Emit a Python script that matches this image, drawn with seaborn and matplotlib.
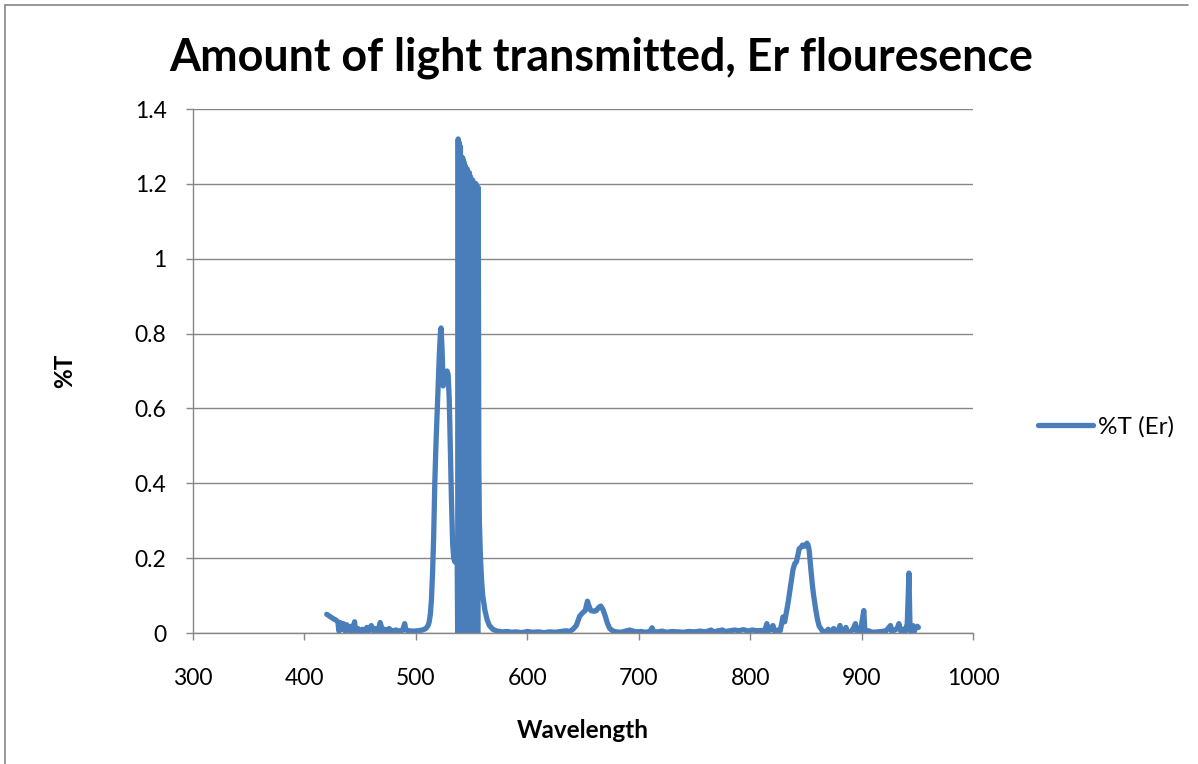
import numpy as np
import pandas as pd
import seaborn as sns
import matplotlib.pyplot as plt
from matplotlib.lines import Line2D

# wavelength (nm) and transmission
wavelength = [
    420, 422, 424, 426, 428, 430, 431, 432, 434, 435, 437, 438, 440, 442, 443, 445, 446, 448, 450, 452,
    454, 456, 458, 460, 462, 464, 466, 468, 470, 472, 474, 476, 478, 480, 482, 484, 486, 488, 490, 491,
    494, 498, 502, 506, 509, 511, 512, 513, 514, 515, 516, 517, 518, 519, 520, 521, 522, 522.6, 523.5, 524.5,
    525.5, 527, 528, 529, 530, 531, 532, 533, 534, 535, 536, 537,
    537.5, 538, 538.5, 539, 539.5, 540, 540.5, 541, 541.5, 542, 542.5, 543, 543.5, 544, 544.5, 545, 545.5, 546,
    546.5, 547, 547.5, 548, 548.5, 549, 549.5, 550, 550.5, 551, 551.5, 552, 552.5, 553, 553.5, 554, 554.5, 555,
    555.5, 556, 556.5,
    557, 558, 559, 560, 562, 564, 566, 569, 573, 578, 582, 586, 590, 595, 600, 605, 610, 615, 620, 625,
    630, 635, 638, 641, 644, 647, 650, 652, 654, 655, 657, 660, 662, 664, 666, 668, 670, 672, 674, 677,
    680, 684, 688, 692, 695, 698, 702, 706, 710, 712, 713, 717, 721, 725, 730, 735, 740, 745, 750, 755,
    760, 765, 767, 770, 775, 778, 782, 786, 790, 794, 798, 802, 806, 810, 813, 815, 816, 818, 820.5, 822,
    825, 827, 829.5, 831, 834, 836, 838.5, 840, 841.5, 843, 844, 846, 847, 849, 851, 852, 853, 854.5, 856, 857,
    858, 859, 860.5, 862, 865, 868, 870, 872, 875, 876, 879, 880.6, 882, 884, 886, 887, 890, 892, 894.5, 896,
    899, 902, 903, 906, 910, 914, 918, 922, 926, 927, 930, 932, 933.5, 935, 937, 939, 941, 942.5, 943.5, 944.5,
    946, 947, 948, 950, 951,
]
transmission = [
    0.050, 0.046, 0.042, 0.038, 0.035, 0.030, 0.005, 0.028, 0.010, 0.025, 0.002, 0.022, 0.008, 0.018, 0.000, 0.030, 0.004, 0.012, 0.002, 0.010,
    0.004, 0.015, 0.006, 0.020, 0.005, 0.012, 0.003, 0.028, 0.006, 0.010, 0.004, 0.012, 0.006, 0.005, 0.008, 0.006, 0.005, 0.007, 0.025, 0.008,
    0.006, 0.005, 0.006, 0.008, 0.012, 0.020, 0.030, 0.050, 0.090, 0.160, 0.260, 0.400, 0.500, 0.580, 0.660, 0.740, 0.800, 0.815, 0.760, 0.660,
    0.690, 0.680, 0.700, 0.690, 0.620, 0.480, 0.350, 0.240, 0.200, 0.190, 0.210, 0.250,
    0.000, 1.320, 0.000, 1.310, 0.000, 1.300, 0.000, 1.270, 0.000, 1.270, 0.000, 1.260, 0.000, 1.250, 0.000, 1.240, 0.000, 1.240,
    0.000, 1.230, 0.000, 1.230, 0.000, 1.220, 0.000, 1.210, 0.000, 1.210, 0.000, 1.200, 0.000, 1.200, 0.000, 1.200, 0.000, 1.190,
    0.000, 1.190, 0.450,
    0.300, 0.200, 0.140, 0.100, 0.060, 0.035, 0.020, 0.010, 0.005, 0.003, 0.004, 0.002, 0.003, 0.001, 0.004, 0.002, 0.003, 0.001, 0.003, 0.002,
    0.004, 0.006, 0.004, 0.010, 0.020, 0.045, 0.055, 0.060, 0.085, 0.075, 0.060, 0.058, 0.060, 0.068, 0.072, 0.062, 0.045, 0.025, 0.012, 0.005,
    0.003, 0.002, 0.005, 0.008, 0.005, 0.003, 0.004, 0.002, 0.004, 0.014, 0.004, 0.003, 0.005, 0.002, 0.004, 0.003, 0.002, 0.004, 0.003, 0.005,
    0.003, 0.008, 0.003, 0.005, 0.008, 0.004, 0.006, 0.008, 0.006, 0.009, 0.005, 0.008, 0.006, 0.007, 0.005, 0.025, 0.006, 0.008, 0.020, 0.004,
    0.008, 0.006, 0.043, 0.030, 0.080, 0.120, 0.170, 0.185, 0.190, 0.210, 0.225, 0.230, 0.235, 0.232, 0.240, 0.235, 0.220, 0.170, 0.124, 0.100,
    0.080, 0.060, 0.035, 0.018, 0.005, 0.003, 0.010, 0.003, 0.012, 0.002, 0.006, 0.020, 0.002, 0.006, 0.015, 0.002, 0.004, 0.008, 0.025, 0.003,
    0.004, 0.060, 0.004, 0.006, 0.002, 0.003, 0.004, 0.006, 0.020, 0.005, 0.008, 0.012, 0.025, 0.006, 0.010, 0.003, 0.025, 0.160, 0.010, 0.000,
    0.020, 0.002, 0.010, 0.018, 0.015,
]

df = pd.DataFrame({'Wavelength': wavelength, '%T (Er)': transmission})

sns.set_style('white')
plt.rcParams['font.family'] = ['Lato', 'DejaVu Sans']
plt.rcParams['text.color'] = 'black'
plt.rcParams['axes.labelcolor'] = 'black'

GRID = '#868686'
BLUE = '#4A7EBB'

fig = plt.figure(figsize=[11.98, 7.64], dpi=100)
ax = fig.add_axes([193/1198, 1-633/764, 780/1198, 524/764])  # [left, bottom, width, height]

sns.lineplot(data=df, x='Wavelength', y='%T (Er)', ax=ax, color=BLUE, linewidth=3.8,
             estimator=None, sort=False, legend=False,
             solid_capstyle='round', solid_joinstyle='round')

ax.set_xlim(300, 1000)
ax.set_ylim(0, 1.4)
ax.set_xticks([300, 400, 500, 600, 700, 800, 900, 1000])
ax.set_yticks([0, 0.2, 0.4, 0.6, 0.8, 1.0, 1.2, 1.4])
ax.set_yticklabels(['0', '0.2', '0.4', '0.6', '0.8', '1', '1.2', '1.4'])
ax.yaxis.grid(True, color=GRID, linewidth=1.0)
ax.set_axisbelow(True)
for b in ['top', 'right']:
    ax.spines[b].set_visible(False)
for b in ['left', 'bottom']:
    ax.spines[b].set_color(GRID)
    ax.spines[b].set_linewidth(1.0)
ax.tick_params(axis='x', direction='out', length=5, width=1, color=GRID, labelcolor='black',
               pad=20, labelsize=16.5)
ax.tick_params(axis='y', direction='out', length=5, width=1, color=GRID, labelcolor='black',
               pad=14, labelsize=16.5)
ax.tick_params(bottom=True, left=True)

ax.set_xlabel('Wavelength', fontsize=17.5, fontweight='bold', labelpad=22)
ax.set_ylabel('%T', fontsize=17.5, fontweight='bold', labelpad=42)
fig.suptitle('Amount of light transmitted, Er flouresence', fontsize=32.3, fontweight='bold',
             x=601/1198, y=1-58/764, va='center')

handle = Line2D([], [], color=BLUE, linewidth=3.8, solid_capstyle='round')
fig.legend([handle], ['%T (Er)'], loc='center left', bbox_to_anchor=(1038/1198, 1-427/764),
           frameon=False, fontsize=17.5, handlelength=2.26, handletextpad=0.2,
           borderpad=0, borderaxespad=0)

# chart border (only top and left edges show in the original crop)
fig.add_artist(Line2D([5/1198, 1188/1198], [1-5/764, 1-5/764], color=GRID, linewidth=1.2))
fig.add_artist(Line2D([5/1198, 5/1198], [1-5/764, 0], color=GRID, linewidth=1.2))

plt.savefig('out.png', dpi=100)
plt.close()
